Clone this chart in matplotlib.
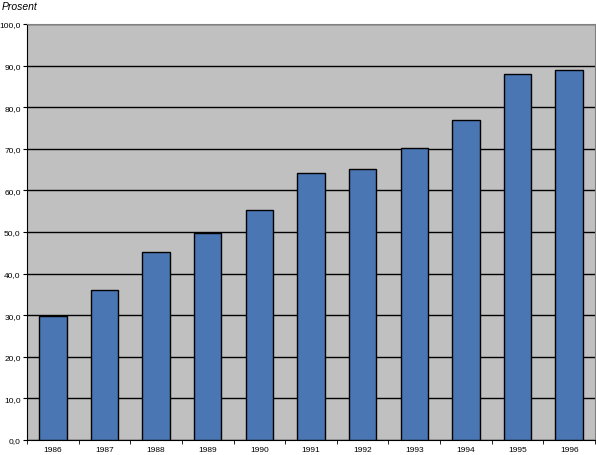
import numpy as np
import matplotlib
matplotlib.use("Agg")
import matplotlib.pyplot as plt
from matplotlib.ticker import FuncFormatter, FixedLocator

years = ["1986", "1987", "1988", "1989", "1990", "1991",
         "1992", "1993", "1994", "1995", "1996"]
values = [29.8, 36.1, 45.2, 49.8, 55.3, 64.2, 65.1, 70.2, 76.9, 88.0, 88.9]
y_ticks = [0, 10, 20, 30, 40, 50, 60, 70, 80, 90, 100]

plt.rcParams["font.family"] = ["Liberation Sans", "DejaVu Sans"]

fig = plt.figure(figsize=(5.96, 4.56), dpi=100)
ax = fig.add_axes([27 / 596, 15 / 456, 568 / 596, 416 / 456])
ax.set_facecolor("#c0c0c0")

x = np.arange(len(years))
ax.bar(x, values, width=0.53, color="#4a76b4", edgecolor="black",
       linewidth=1.0, zorder=3)

ax.set_xlim(-0.5, len(years) - 0.5)
ax.set_ylim(0, 100)
ax.set_yticks(y_ticks)
ax.yaxis.set_major_formatter(FuncFormatter(lambda v, p: f"{v:.1f}".replace(".", ",")))
ax.grid(axis="y", color="black", lw=1.0, zorder=1)

ax.set_xticks(x)
ax.set_xticklabels(years)
ax.xaxis.set_minor_locator(FixedLocator(np.arange(-0.5, len(years), 1.0)))
ax.tick_params(axis="x", which="major", length=0, labelsize=6, pad=4)
ax.tick_params(axis="x", which="minor", length=3, direction="out")
ax.tick_params(axis="y", length=3, labelsize=6, pad=1.5)

for side in ["top", "right"]:
    ax.spines[side].set_color("#808080")
for side in ["left", "bottom"]:
    ax.spines[side].set_color("black")

fig.text(2 / 596, 1 - 7 / 456, "Prosent", fontsize=7.5, style="italic",
         va="center", ha="left")

fig.savefig("out.png", dpi=100)
